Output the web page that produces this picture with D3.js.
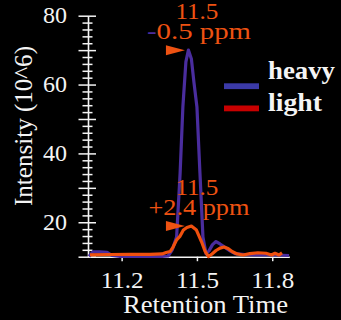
<!DOCTYPE html>
<html>
<head>
<meta charset="utf-8">
<script src="https://cdn.jsdelivr.net/npm/d3@7"></script>
<style>
  html, body { margin: 0; padding: 0; background: #000; }
  svg { display: block; }
</style>
</head>
<body>
<svg id="chart" width="341" height="320"></svg>
<script>
// Chromatogram traces: retention time (min) vs intensity (10^6)
const heavyTime = [11.070, 11.086, 11.114, 11.142, 11.162, 11.193, 11.253, 11.313, 11.361, 11.385,
  11.401, 11.419, 11.433, 11.444, 11.456, 11.466, 11.478, 11.488, 11.500, 11.512,
  11.524, 11.536, 11.548, 11.562, 11.576, 11.592, 11.612, 11.632, 11.652, 11.691,
  11.731, 11.771, 11.811, 11.867];
const heavyIntensity = [10.1, 11.4, 11.4, 11.3, 10.35, 10.1, 10.1, 10.1, 10.1, 10.2,
  11.9, 15.7, 34.3, 53.5, 66.6, 70.0, 67.4, 60.7, 53.5, 34.3,
  15.7, 10.9, 11.7, 13.5, 14.4, 13.7, 12.7, 11.7, 10.9, 10.6,
  10.55, 10.6, 10.5, 10.35];

const lightTime = [11.074, 11.154, 11.233, 11.313, 11.361, 11.377, 11.393, 11.405, 11.419, 11.433,
  11.446, 11.460, 11.478, 11.498, 11.518, 11.532, 11.546, 11.560, 11.576, 11.592,
  11.608, 11.624, 11.640, 11.660, 11.684, 11.711, 11.743, 11.775, 11.797, 11.811,
  11.827, 11.839];
const lightIntensity = [10.55, 10.64, 10.7, 10.7, 10.8, 11.2, 11.5, 12.8, 14.9, 16.0,
  17.75, 18.5, 18.9, 17.75, 14.4, 11.65, 10.05, 10.8, 11.8, 12.5,
  12.8, 12.4, 11.5, 10.8, 10.5, 10.9, 11.15, 11.0, 10.5, 11.0,
  10.5, 11.1];

const xTicks = [11.2, 11.5, 11.8];
const yTickLabels = [20, 40, 60, 80];
const seriesNames = ["heavy", "light"];
const seriesColors = ["#4a2d9e", "#f0500e"];
const legendColors = ["#3b3aa8", "#c80000"];

// Peak annotations: retention time and mass error for each series
const peakRT = [11.5, 11.5];
const peakPpm = [-0.5, 2.4];

const textColor = "#f4f4f4";
const annotColor = "#ee5212";

const svg = d3.select("#chart");
svg.append("rect").attr("width", 341).attr("height", 320).attr("fill", "#000");

// pick the first installed serif face
function installed(name) {
  const probe = svg.append("text").attr("font-size", 40).text("Retention Time 0123 heavy");
  probe.attr("font-family", "monospace");
  const w0 = probe.node().getComputedTextLength();
  probe.attr("font-family", `'${name}', monospace`);
  const w1 = probe.node().getComputedTextLength();
  probe.remove();
  return Math.abs(w1 - w0) > 0.5;
}
const serifCandidates = ["Liberation Serif", "Tinos", "Times New Roman", "Noto Serif", "DejaVu Serif"];
const serifFace = serifCandidates.find(installed);
const font = serifFace ? `'${serifFace}', serif` : "'DejaVu Sans', sans-serif";
// size factor so that digit heights stay comparable across faces
const fs = !serifFace ? 0.91 : (serifFace === "DejaVu Serif" || serifFace === "Noto Serif") ? 0.84 : 1;

const x = d3.scaleLinear().domain([11.066, 11.868]).range([88, 289.3]);
const y = d3.scaleLinear().domain([10, 80]).range([256.7, 15.7]);

// y axis: major ticks every 10, minor every 2, ticks cross the axis line
const yAxis = d3.axisLeft(y)
  .tickValues(d3.range(10, 81, 2))
  .tickSize(0)
  .tickPadding(21)
  .tickFormat(d => yTickLabels.includes(d) ? String(d) : "");
const gy = svg.append("g").attr("transform", "translate(88,0)").call(yAxis);
gy.select(".domain").attr("stroke", textColor).attr("stroke-width", 1.6);
gy.selectAll(".tick line")
  .attr("stroke", textColor).attr("stroke-width", 1.5)
  .attr("x1", d => d % 10 === 0 ? -9.5 : -5.5)
  .attr("x2", d => d % 10 === 0 ? 8 : 4.5);
gy.selectAll(".tick text")
  .attr("fill", textColor).attr("font-family", font).attr("font-size", 24 * fs)
  .attr("dy", "0.3em");

// x axis
const xAxis = d3.axisBottom(x).tickValues(xTicks).tickSizeInner(4.5).tickSizeOuter(0)
  .tickPadding(0).tickFormat(d3.format(".1f"));
const gx = svg.append("g").attr("transform", "translate(0,256.7)").call(xAxis);
gx.select(".domain").attr("stroke", textColor).attr("stroke-width", 1.6);
gx.selectAll(".tick line").attr("stroke", textColor).attr("stroke-width", 1.5);
gx.selectAll(".tick text")
  .attr("fill", textColor).attr("font-family", font).attr("font-size", 24 * fs)
  .attr("y", 31.6).attr("dy", null)
  .attr("textLength", 43).attr("lengthAdjust", "spacingAndGlyphs");

// axis titles
svg.append("text")
  .attr("x", 205.5).attr("y", 313)
  .attr("text-anchor", "middle")
  .attr("font-family", font).attr("font-size", 25 * fs)
  .attr("textLength", 165).attr("lengthAdjust", "spacingAndGlyphs")
  .attr("fill", textColor)
  .text("Retention Time");

svg.append("text")
  .attr("transform", "translate(32,126) rotate(-90)")
  .attr("text-anchor", "middle")
  .attr("font-family", font).attr("font-size", 25 * fs)
  .attr("textLength", 160).attr("lengthAdjust", "spacingAndGlyphs")
  .attr("fill", textColor)
  .text("Intensity (10^6)");

// traces
const line = d3.line().x(d => x(d[0])).y(d => y(d[1]));
const traces = [
  d3.zip(heavyTime, heavyIntensity),
  d3.zip(lightTime, lightIntensity)
];
traces.forEach((pts, i) => {
  svg.append("path")
    .datum(pts)
    .attr("d", line)
    .attr("fill", "none")
    .attr("stroke", seriesColors[i])
    .attr("stroke-width", 3.2)
    .attr("stroke-linejoin", "round");
});

// peak annotations: marker triangle + retention time + ppm error
const ppmWidths = [104, 101];
traces.forEach((pts, i) => {
  const peak = pts.reduce((a, b) => (b[1] > a[1] ? b : a));
  const py = y(peak[1]);
  const cx = x(peakRT[i]);
  const g = svg.append("g");
  g.append("path")
    .attr("d", `M${cx - 31},${py - 5}L${cx - 12},${py}L${cx - 31},${py + 5}Z`)
    .attr("fill", annotColor);
  g.append("text")
    .attr("x", cx).attr("y", py - 31)
    .attr("text-anchor", "middle")
    .attr("font-family", font).attr("font-size", 24 * fs)
    .attr("textLength", 43).attr("lengthAdjust", "spacingAndGlyphs")
    .attr("fill", annotColor)
    .text(peakRT[i].toFixed(1));
  const v = peakPpm[i];
  const t = g.append("text")
    .attr("x", cx + 2).attr("y", py - 11)
    .attr("text-anchor", "middle")
    .attr("font-family", font).attr("font-size", 24 * fs)
    .attr("textLength", ppmWidths[i]).attr("lengthAdjust", "spacingAndGlyphs");
  t.append("tspan")
    .attr("fill", v < 0 ? seriesColors[0] : annotColor)
    .text(v < 0 ? "-" : "+");
  t.append("tspan")
    .attr("fill", annotColor)
    .text(Math.abs(v).toFixed(1) + " ppm");
});

// legend
const legend = svg.append("g");
const legendLineY = [86.2, 108.4];
const legendTextY = [79, 111];
const legendWidths = [67, 54];
seriesNames.forEach((name, i) => {
  legend.append("rect")
    .attr("x", 224).attr("y", legendLineY[i] - 2.9)
    .attr("width", 35).attr("height", 5.8)
    .attr("fill", legendColors[i]);
  legend.append("text")
    .attr("x", 268).attr("y", legendTextY[i])
    .attr("font-family", font).attr("font-size", 26 * fs).attr("font-weight", "bold")
    .attr("textLength", legendWidths[i]).attr("lengthAdjust", "spacingAndGlyphs")
    .attr("fill", textColor)
    .text(name);
});
</script>
</body>
</html>
